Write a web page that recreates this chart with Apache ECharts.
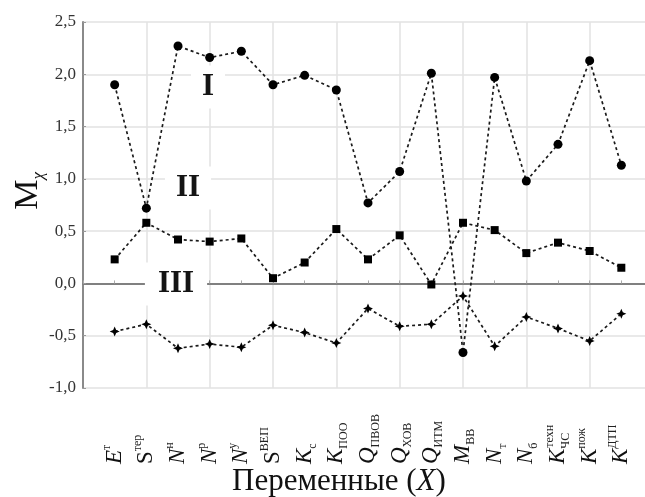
<!DOCTYPE html>
<html>
<head>
<meta charset="utf-8">
<script src="https://cdn.jsdelivr.net/npm/echarts@6/dist/echarts.min.js"></script>
<style>
  html, body { margin: 0; padding: 0; background: #fff; }
  #chart { width: 645px; height: 497px; }
</style>
</head>
<body>
<div id="chart"></div>
<script>
// variable labels: base letter, superscript, subscript
const labelBase = ['E', 'S', 'N', 'N', 'N', 'S', 'K', 'K', 'Q', 'Q', 'Q', 'M', 'N', 'N', 'K', 'K', 'K']
const labelSup = ['т', 'тер', 'н', 'р', 'у', 'ВЕП', '', '', '', '', '', '', '', '', 'техн', 'пож', 'ДТП']
const labelSub = ['', '', '', '', '', '', 'с', 'ПОО', 'ПВОВ', 'ХОВ', 'ИТМ', 'ВВ', 'т', 'б', 'ЧС', '', '']

const seriesI = [1.90, 0.72, 2.27, 2.16, 2.22, 1.90, 1.99, 1.85, 0.77, 1.07, 2.01, -0.66, 1.97, 0.98, 1.33, 2.13, 1.13]
const seriesII = [0.23, 0.58, 0.42, 0.40, 0.43, 0.05, 0.20, 0.52, 0.23, 0.46, -0.01, 0.58, 0.51, 0.29, 0.39, 0.31, 0.15]
const seriesIII = [-0.46, -0.39, -0.62, -0.58, -0.61, -0.40, -0.47, -0.57, -0.24, -0.41, -0.39, -0.12, -0.60, -0.32, -0.43, -0.55, -0.29]

const yTicks = [-1.0, -0.5, 0.0, 0.5, 1.0, 1.5, 2.0, 2.5]

const serif = 'Liberation Serif'

// category slots: empty slot at the axis, the 17 variables, one empty slot past the edge
const categories = [''].concat(labelBase.map((b, i) => b + labelSup[i] + labelSub[i]), [''])

const chart = echarts.init(document.getElementById('chart'), null, { renderer: 'canvas' })

function xLabel(value, index) {
  const k = index - 1
  if (k < 0 || k >= labelBase.length) return ''
  const baseStyle = labelBase[k] === 'S' ? 'bu' : 'b'
  let s = '{' + baseStyle + '|' + labelBase[k] + '}'
  if (labelSub[k] && labelSup[k]) {
    s += '{subz|' + labelSub[k] + '}{sup|' + labelSup[k] + '}'
  } else if (labelSup[k]) {
    s += '{sup|' + labelSup[k] + '}'
  } else if (labelSub[k]) {
    s += '{sub|' + labelSub[k] + '}'
  }
  return s
}

function toPoints(arr) {
  return arr.map((v, i) => [i + 1, v])
}

const lineStyle = { color: '#1a1a1a', width: 1.7, type: [3, 3] }

const option = {
  animation: false,
  backgroundColor: '#fff',
  textStyle: { fontFamily: serif },
  title: {
    text: '{a|Переменные (}{i|X}{a|)}',
    left: 232,
    top: 466,
    padding: 0,
    textStyle: {
      fontWeight: 'normal',
      rich: {
        a: { fontFamily: serif, fontSize: 31, fontWeight: 'normal', color: '#111', lineHeight: 32 },
        i: { fontFamily: serif, fontSize: 31, fontWeight: 'normal', fontStyle: 'italic', color: '#111', lineHeight: 32 }
      }
    }
  },
  grid: {
    left: 83,
    top: 22,
    width: 570,
    height: 366,
    containLabel: false,
    outerBoundsMode: 'none'
  },
  xAxis: {
    type: 'category',
    boundaryGap: false,
    data: categories,
    axisLine: { lineStyle: { color: '#808080', width: 2 } },
    axisTick: { inside: true, length: 3, interval: 0, lineStyle: { color: '#aaa' } },
    splitLine: { show: true, interval: 1, lineStyle: { color: '#e2e2e2', width: 1.5 } },
    axisLabel: {
      interval: 0,
      rotate: 90,
      align: 'left',
      verticalAlign: 'middle',
      margin: 76,
      hideOverlap: false,
      formatter: xLabel,
      rich: {
        b: { fontFamily: serif, fontSize: 23, fontStyle: 'italic', color: '#111', lineHeight: 28, verticalAlign: 'middle' },
        bu: { fontFamily: serif, fontSize: 23, color: '#111', lineHeight: 28, verticalAlign: 'middle' },
        sup: { fontFamily: serif, fontSize: 12, color: '#222', lineHeight: 12, verticalAlign: 'top' },
        sub: { fontFamily: serif, fontSize: 12, color: '#222', lineHeight: 12, verticalAlign: 'bottom' },
        subz: { fontFamily: serif, fontSize: 12, color: '#222', lineHeight: 12, verticalAlign: 'bottom', width: 1 }
      }
    }
  },
  yAxis: {
    type: 'value',
    min: -1,
    max: 2.5,
    interval: 0.5,
    name: '{m|M}{s|χ}',
    nameLocation: 'middle',
    nameGap: 36,
    nameMoveOverlap: false,
    nameRotate: 90,
    nameTextStyle: {
      padding: [0, 0, 0, 28],
      rich: {
        m: { fontFamily: serif, fontSize: 34, color: '#111', lineHeight: 38, verticalAlign: 'middle' },
        s: { fontFamily: serif, fontSize: 17, fontStyle: 'italic', color: '#111', lineHeight: 17, verticalAlign: 'bottom' }
      }
    },
    axisLine: { show: true, lineStyle: { color: '#8a8a8a', width: 2 } },
    axisTick: { show: true, inside: true, length: 3, lineStyle: { color: '#999' } },
    splitLine: { lineStyle: { color: '#e2e2e2', width: 1.5 } },
    axisLabel: {
      fontFamily: serif,
      fontSize: 17,
      color: '#333',
      margin: 7,
      formatter: v => (yTicks.includes(v) ? v.toFixed(1).replace('.', ',') : '')
    }
  },
  graphic: [
    { type: 'text', x: 208, y: 87, z: 5, style: { text: 'I', font: "bold 31px 'Liberation Serif', serif", fill: '#141414', align: 'center', verticalAlign: 'middle', backgroundColor: '#fff', padding: [6, 11] } },
    { type: 'text', x: 188, y: 188, z: 5, style: { text: 'II', font: "bold 31px 'Liberation Serif', serif", fill: '#141414', align: 'center', verticalAlign: 'middle', backgroundColor: '#fff', padding: [6, 11] } },
    { type: 'text', x: 176, y: 284, z: 5, style: { text: 'III', font: "bold 31px 'Liberation Serif', serif", fill: '#141414', align: 'center', verticalAlign: 'middle', backgroundColor: '#fff', padding: [6, 13] } }
  ],
  series: [
    {
      name: 'I',
      type: 'line',
      data: toPoints(seriesI),
      symbol: 'circle',
      symbolSize: 9,
      itemStyle: { color: '#000' },
      lineStyle: lineStyle,
      z: 10
    },
    {
      name: 'II',
      type: 'line',
      data: toPoints(seriesII),
      symbol: 'rect',
      symbolSize: 8,
      itemStyle: { color: '#000' },
      lineStyle: lineStyle,
      z: 10
    },
    {
      name: 'III',
      type: 'line',
      data: toPoints(seriesIII),
      symbol: 'path://M0,-10 L3,-3 L10,0 L3,3 L0,10 L-3,3 L-10,0 L-3,-3 Z',
      symbolSize: 10,
      itemStyle: { color: '#000' },
      lineStyle: lineStyle,
      z: 10
    }
  ]
}

chart.setOption(option)
</script>
</body>
</html>
